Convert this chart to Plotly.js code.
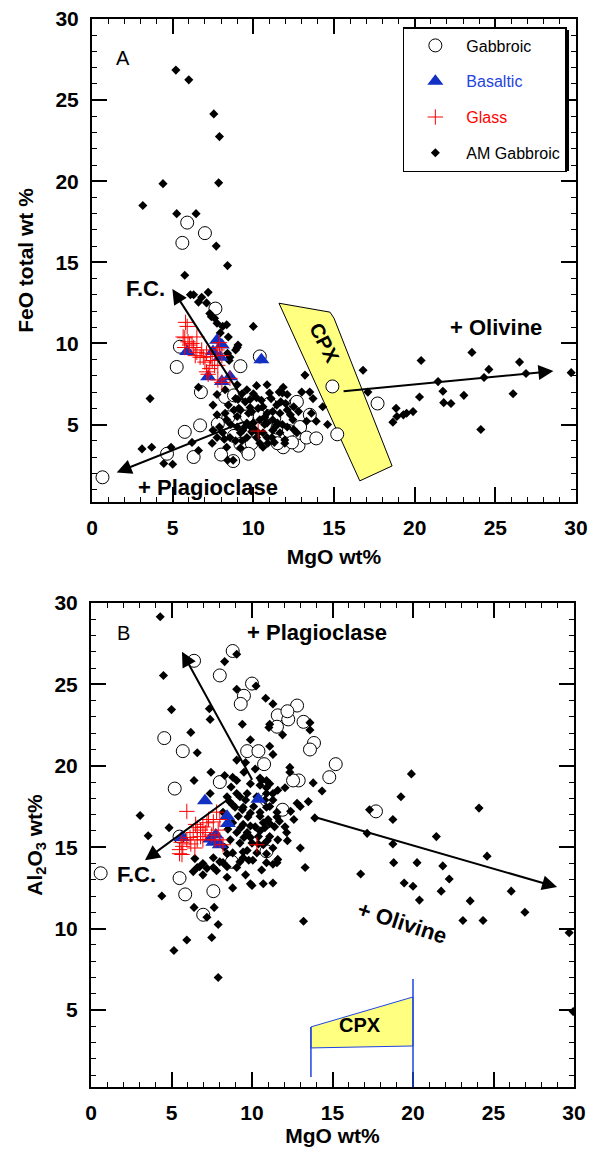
<!DOCTYPE html>
<html><head><meta charset="utf-8">
<script src="https://cdn.plot.ly/plotly-3.0.1.min.js"></script>
<style>html,body{margin:0;padding:0;background:#fff}</style>
</head><body><div id="chart" style="width:592px;height:1150px"></div>
<script>
// ---------- Panel A: MgO vs FeO total ----------
const mgoA_gab = [5.9,7.0,5.6,7.65,5.45,5.25,9.2,6.75,8.25,8.8,5.75,6.7,4.65,6.3,8.0,8.75,0.65,9.6,8.45,7.8,8.8,9.2,9.9,10.4,11.85,11.5,12.6,12.8,9.6,10.9,10.4,11.0,11.3,12.2,12.9,13.3,13.9,11.5,13.5,14.9,17.7,15.2,12.7,12.4,9.7];
const feoA_gab = [17.45,16.8,16.2,12.15,9.8,8.55,8.6,7.0,6.7,6.8,4.55,4.95,3.2,3.0,3.15,2.75,1.75,3.45,5.45,5.05,4.3,3.8,3.85,9.2,3.6,4.8,6.3,3.7,5.5,5.9,5.5,6.3,5.4,4.6,4.85,4.2,4.15,3.85,5.6,7.35,6.3,4.4,6.4,3.9,3.2];

const mgoA_bas = [5.9,7.75,8.05,7.95,7.2,8.05,8.55,10.5,7.5];
const feoA_bas = [9.5,10.2,9.9,9.15,7.95,7.65,7.95,9.0,9.5];

const mgoA_gls = [5.9,5.65,6.5,5.95,5.75,6.3,6.5,6.8,6.7,7.1,7.0,7.45,7.6,7.3,7.1,7.8,7.9,7.75,8.05,7.9,7.8,8.05,8.55,10.3,5.75,6.4,6.9,5.8,6.2,7.2,6.05,7.35];
const feoA_gls = [11.05,10.4,10.4,10.1,9.75,9.75,9.45,9.6,9.15,9.4,8.85,8.95,8.65,8.45,8.25,8.65,9.75,9.6,9.25,10.05,7.75,7.6,7.85,4.6,10.35,9.25,9.15,11.3,10.0,8.1,9.9,9.2];

const mgoA_am = [5.2,6.0,7.55,7.9,4.4,7.85,3.15,5.25,6.45,7.7,8.4,5.75,6.1,6.6,6.8,7.2,7.1,7.3,7.6,7.75,8.1,8.35,7.95,8.45,6.3,7.4,9.05,8.9,8.55,9.0,10.0,8.4,8.5,3.6,3.1,3.7,4.45,4.9,5.0,6.2,6.6,7.5,8.4,8.75,6.6,7.5,8.25,9.0,9.6,10.85,11.0,11.85,12.1,10.2,10.6,9.8,9.2,8.25,7.75,7.9,8.35,9.0,9.35,10.0,10.4,10.85,11.2,11.65,12.1,12.5,11.2,11.65,10.85,10.2,9.6,9.2,8.55,7.75,7.45,8.35,9.2,10.4,9.9,9.6,9.0,8.45,7.75,9.05,9.8,11.45,12.45,12.1,12.7,11.95,11.8,13.0,13.5,13.2,13.7,14.3,11.7,13.6,13.9,13.3,14.6,12.5,10.9,16.8,17.1,11.95,10.85,11.2,11.5,10.7,11.15,18.85,18.65,18.9,19.3,19.5,19.9,20.3,20.4,21.45,21.75,21.8,22.25,23.05,23.55,24.1,24.3,24.6,26.1,26.5,26.9,29.7,9.3,10.6,9.7,8.8,10.3,11.4,8.1,9.5,10.1,8.6,9.1,9.9,10.5,11.1,10.0,9.3,10.7,11.8,12.3,12.0,10.3,9.8,8.9,8.2,10.6,11.3,12.8,9.5,8.9,11.6,10.2];
const feoA_am = [26.85,26.25,24.15,22.75,19.85,19.9,18.5,18.0,18.0,16.0,14.8,14.2,13.0,12.55,12.85,13.15,12.5,11.85,11.55,11.25,11.05,11.15,10.65,10.4,13.0,11.65,9.9,9.6,9.15,9.75,11.05,9.4,8.95,6.6,3.5,3.6,2.6,3.6,2.55,3.9,3.4,4.65,2.8,2.8,7.3,6.2,7.15,7.45,7.15,7.45,6.95,7.3,6.85,6.65,6.1,6.05,5.9,5.7,5.6,4.85,5.3,4.85,4.65,5.1,5.3,5.1,5.3,5.7,5.9,6.1,4.65,4.5,4.2,4.2,4.2,4.5,4.2,4.2,3.85,3.6,3.55,3.85,4.55,5.1,5.5,6.2,6.85,6.55,6.55,6.2,5.3,4.85,4.5,3.85,6.95,7.0,7.0,8.05,6.6,6.1,6.4,5.7,5.2,5.2,5.0,4.7,3.85,8.35,7.0,4.05,5.7,5.8,5.1,5.0,4.2,6.0,5.15,5.5,5.6,5.7,5.8,6.7,8.95,7.65,7.05,6.35,6.3,6.8,9.45,4.7,7.9,8.4,6.9,8.85,8.15,8.2,4.0,4.5,5.7,5.9,6.0,4.9,4.5,4.9,4.7,5.0,6.0,5.8,6.5,6.6,6.9,6.9,5.45,5.0,5.6,6.3,4.5,4.9,4.0,4.1,3.6,3.9,5.8,6.4,6.6,7.0,7.4];

// ---------- Panel B: MgO vs Al2O3 ----------
const mgoB_gab = [8.8,6.4,8.0,10.0,9.5,9.3,4.55,5.7,5.2,9.7,10.4,10.75,8.0,11.6,12.25,11.55,12.8,12.2,11.9,5.5,13.2,13.85,13.6,15.2,14.8,12.9,12.55,17.7,10.9,10.9,8.75,0.6,5.5,5.85,7.6,6.97];
const alB_gab = [27.05,26.45,25.55,25.05,24.3,23.8,21.7,20.9,18.6,20.9,20.9,20.1,19.0,23.1,22.85,22.4,23.7,23.35,17.3,15.65,22.7,21.4,21.0,20.1,19.3,19.1,19.1,17.2,17.9,14.75,14.1,13.4,13.1,12.1,12.3,10.85];

const mgoB_bas = [7.08,10.4,8.45,8.5,5.65,7.6,8.0,7.75,7.4];
const alB_bas = [17.85,17.95,16.9,16.45,15.6,15.3,15.15,15.75,15.5];

const mgoB_gls = [5.95,7.8,8.0,5.5,5.65,5.7,6.45,6.6,6.15,6.35,6.8,6.95,7.2,7.3,7.6,7.5,7.9,8.0,6.95,6.8,5.95,8.2,10.3,7.7,6.6,6.2,5.6,7.1,6.5,5.5];
const alB_gls = [17.2,17.15,16.7,14.85,14.55,15.05,14.95,15.45,15.6,15.9,16.05,16.25,16.5,16.7,16.55,15.75,16.05,15.45,15.45,15.65,15.45,15.15,15.15,15.45,16.2,15.2,15.3,15.9,16.4,14.6];

const mgoB_am = [4.3,4.5,5.0,6.2,6.6,7.4,7.35,8.3,9.05,9.05,10.25,10.85,11.3,11.05,11.9,11.3,9.6,7.45,9.05,9.9,10.6,10.9,12.05,12.35,3.05,3.55,4.85,7.4,6.4,8.8,13.6,13.8,14.35,13.5,13.0,13.9,17.15,18.75,19.9,19.25,18.75,21.45,24.1,24.6,13.0,13.3,18.8,20.25,21.85,16.75,22.25,19.45,20.0,21.75,26.1,20.4,23.55,13.2,23.1,24.35,26.95,29.7,29.95,4.4,5.15,5.95,6.4,7.2,7.5,7.9,7.65,7.9,10.0,11.3,11.55,8.45,6.75,6.95,7.6,8.0,6.35,8.3,10.5,10.9,11.3,9.7,9.25,8.45,8.95,9.45,10.1,11.1,11.55,8.2,9.15,9.75,10.5,11.0,8.8,9.45,10.2,10.8,11.4,12.05,12.15,9.05,9.7,10.4,11.1,11.6,8.65,9.25,10.0,10.7,11.3,8.8,9.45,10.3,11.6,9.25,8.45,12.8,12.35,13.6,11.1,9.4,9.9,11.1,17.3,9.05,8.8,9.4,8.45,7.6,6.95,6.6,7.2,7.8,6.45,8.2,8.8,9.9,10.7,9.05,9.45,10.05,10.9,11.3,9.9,10.5,11.1,11.55,10.95,9.7,10.5,10.9,11.3,11.6,10.5,10.9,9.05,9.6,10.3,8.6,10.8,9.9,10.7,9.3,8.5,9.9,11.7,10.4,9.5,8.3,10.9,9.8,11.1,9.5,10.2,8.7,12.4,12.6,12.2,10.6,9.6];
const alB_am = [29.15,25.55,23.45,22.05,20.8,22.85,23.5,26.4,26.85,24.7,24.9,24.15,23.8,22.35,21.9,20.7,20.2,19.6,19.1,18.9,19.1,18.3,18.65,19.6,16.95,15.7,16.2,18.3,19.1,19.3,22.2,18.95,18.45,17.8,17.5,16.8,15.85,15.2,19.5,18.1,16.7,15.65,17.4,14.45,14.95,13.75,14.05,14.05,13.85,13.35,13.05,12.8,12.6,12.3,12.3,11.75,11.7,10.45,10.5,10.5,11.0,9.75,4.9,12.0,8.65,9.3,11.3,10.7,9.45,10.25,11.3,7.0,12.65,12.8,14.05,13.15,13.8,13.3,13.75,14.1,13.5,19.4,19.25,18.65,18.3,18.3,18.1,18.1,17.45,17.45,17.5,17.5,17.15,17.15,16.9,16.85,16.9,16.7,16.5,16.4,16.25,16.2,16.25,16.25,15.9,15.9,15.9,15.65,15.65,15.45,15.45,15.25,15.25,15.15,14.95,14.65,14.7,14.65,14.25,14.1,13.8,17.7,19.9,22.65,22.55,22.55,21.6,21.2,17.3,18.3,17.6,17.3,14.6,14.35,14.0,13.75,13.7,13.55,14.3,14.05,12.5,12.75,12.75,13.75,14.35,14.2,14.05,13.95,15.6,16.0,16.45,16.85,15.4,14.8,17.15,17.45,17.9,18.5,18.8,19.1,20.35,17.9,18.1,17.8,17.9,17.1,16.5,16.2,16.1,16.3,16.6,15.2,15.6,15.0,14.6,14.2,18.9,19.6,19.8,18.7,17.2,16.7,15.4,13.6,13.3];

const tickVals = [0,5,10,15,20,25,30];
const seriesNames = ['Gabbroic','Basaltic','Glass','AM Gabbroic'];
const seriesColors = ['black','#1f44e0','#ff0000','black'];

const FONT = 'Liberation Sans, Arial, Helvetica, sans-serif';
const mk = {
  gab: {symbol:'circle', size:13, color:'white', line:{color:'black', width:1}},
  bas: {symbol:'triangle-up', size:14, color:'#1230c4', line:{width:0}},
  gls: {symbol:'cross-thin-open', size:11, color:'red', line:{color:'red', width:1}},
  am:  {symbol:'diamond', size:7, color:'black', line:{width:0}}
};
function lname(i){ return '<span style="color:'+seriesColors[i]+'">'+seriesNames[i]+'</span>'; }
function tr(x,y,xa,ya,i,marker,show){
  return {type:'scatter', mode:'markers', x:x, y:y, xaxis:xa, yaxis:ya,
    name:lname(i), legendgroup:'g'+i, legendrank:i+1, showlegend:show,
    marker:marker, hoverinfo:'skip'};
}
const data = [
  tr(mgoA_gab,feoA_gab,'x','y',0,mk.gab,true),
  tr(mgoA_am,feoA_am,'x','y',3,mk.am,true),
  tr(mgoA_bas,feoA_bas,'x','y',1,mk.bas,true),
  tr(mgoA_gls,feoA_gls,'x','y',2,mk.gls,true),
  tr(mgoB_gab,alB_gab,'x2','y2',0,mk.gab,false),
  tr(mgoB_am,alB_am,'x2','y2',3,mk.am,false),
  tr(mgoB_bas,alB_bas,'x2','y2',1,mk.bas,false),
  tr(mgoB_gls,alB_gls,'x2','y2',2,mk.gls,false)
];

function ax(extra){
  return Object.assign({
    showline:true, linewidth:2, linecolor:'black', mirror:'ticks',
    ticks:'inside', ticklen:15, tickwidth:2, tickcolor:'black',
    showgrid:false, zeroline:false, fixedrange:true,
    tickfont:{family:FONT, size:21, weight:'bold', color:'black'},
    minor:{dtick:1, tick0:0, ticks:'inside', ticklen:5, tickwidth:1, tickcolor:'black'}
  }, extra);
}
const titleFont = {family:FONT, size:21, weight:'bold', color:'black'};
const labFont = {family:FONT, size:22, weight:'bold', color:'black'};

function arrow(xr,yr,hx,hy,tx,ty){
  return {xref:xr, yref:yr, axref:xr, ayref:yr, x:hx, y:hy, ax:tx, ay:ty,
    text:'', showarrow:true, arrowhead:2, arrowsize:1.5, arrowwidth:2, arrowcolor:'black', standoff:0, startstandoff:0};
}
function lab(xr,yr,x,y,t,f,ang){
  return {xref:xr, yref:yr, x:x, y:y, text:t, showarrow:false, font:f, textangle:ang||0, xanchor:'center', yanchor:'middle'};
}
// paper coordinate helpers for the legend shadow (plot area spans 91..576 px, 19..1087 px)
function px2x(p){ return (p-91)/485; }
function px2y(p){ return (1087-p)/1068; }

const layout = {
  width:592, height:1150,
  margin:{l:91, r:16, t:19, b:63},
  paper_bgcolor:'white', plot_bgcolor:'white',
  font:{family:FONT, color:'black'},
  xaxis: ax({domain:[0.00206,1], anchor:'y', range:[0,30], tickmode:'array', tickvals:tickVals, ticklabelstandoff:6,
    title:{text:'MgO wt%', font:titleFont, standoff:11}}),
  yaxis: ax({domain:[0.5478,1], anchor:'x', range:[0.23,30], tickmode:'array', tickvals:tickVals.slice(1), ticklabelstandoff:7,
    title:{text:'FeO total wt %', font:titleFont, standoff:16}}),
  xaxis2: ax({domain:[0,0.99588], anchor:'y2', range:[0,30], tickmode:'array', tickvals:tickVals, ticklabelstandoff:6,
    title:{text:'MgO wt%', font:titleFont, standoff:4}}),
  yaxis2: ax({domain:[0,0.4532], anchor:'x2', range:[0.27,30], tickmode:'array', tickvals:tickVals.slice(1), ticklabelstandoff:7,
    title:{text:'Al<sub>2</sub>O<sub>3</sub> wt%', font:titleFont, standoff:6}}),
  legend:{x:0.643, y:0.9925, xanchor:'left', yanchor:'top', bgcolor:'white', bordercolor:'black', borderwidth:1.5,
    font:{family:FONT, size:16, color:'black'}, traceorder:'grouped', tracegroupgap:12, itemwidth:52},
  shapes:[
    {type:'rect', xref:'paper', yref:'paper', layer:'above', x0:px2x(406), x1:px2x(569), y0:px2y(171), y1:px2y(30),
     fillcolor:'black', line:{width:0}},
    {type:'path', xref:'x', yref:'y', layer:'below', path:'M 11.59 12.48 L 14.75 11.93 L 15.0 11.56 L 18.6 2.45 L 16.6 1.53 Z',
     fillcolor:'#ffff80', line:{color:'black', width:1}},
    {type:'path', xref:'x2', yref:'y2', layer:'below', path:'M 13.66 3.96 L 20 5.8 L 20 2.79 L 13.66 2.67 Z',
     fillcolor:'#ffff80', line:{color:'#1f44e0', width:1}},
    {type:'line', xref:'x2', yref:'y2', x0:13.66, x1:13.66, y0:0.88, y1:3.96, line:{color:'#1f44e0', width:1.5}},
    {type:'line', xref:'x2', yref:'y2', x0:20, x1:20, y0:0.27, y1:6.9, line:{color:'#1f44e0', width:1.5}}
  ],
  annotations:[
    arrow('x','y',4.98,13.35,9.6,6.2),
    arrow('x','y',1.53,2.05,9.5,5.2),
    arrow('x','y',28.6,8.3,15.5,7.05),
    arrow('x2','y2',3.35,14.2,8.8,18.15),
    arrow('x2','y2',5.65,27.0,10.06,19.05),
    arrow('x2','y2',28.95,12.55,13.9,16.85),
    lab('x','y',1.9,27.6,'A',{family:FONT,size:20,color:'black'}),
    lab('x','y',3.3,13.4,'F.C.',labFont),
    lab('x','y',7.2,1.1,'+ Plagioclase',labFont),
    lab('x','y',25.05,11.0,'+ Olivine',labFont),
    lab('x','y',14.4,10.0,'CPX',{family:FONT,size:20,weight:'bold',color:'black'},63),
    lab('x2','y2',2.0,28.15,'B',{family:FONT,size:20,color:'black'}),
    lab('x2','y2',14.05,28.2,'+ Plagioclase',labFont),
    lab('x2','y2',2.8,13.3,'F.C.',labFont),
    lab('x2','y2',19.3,10.35,'+ Olivine',labFont,18),
    lab('x2','y2',16.7,4.1,'CPX',{family:FONT,size:20,weight:'bold',color:'black'})
  ]
};
Plotly.newPlot('chart', data, layout, {staticPlot:true, displayModeBar:false});
</script></body></html>
